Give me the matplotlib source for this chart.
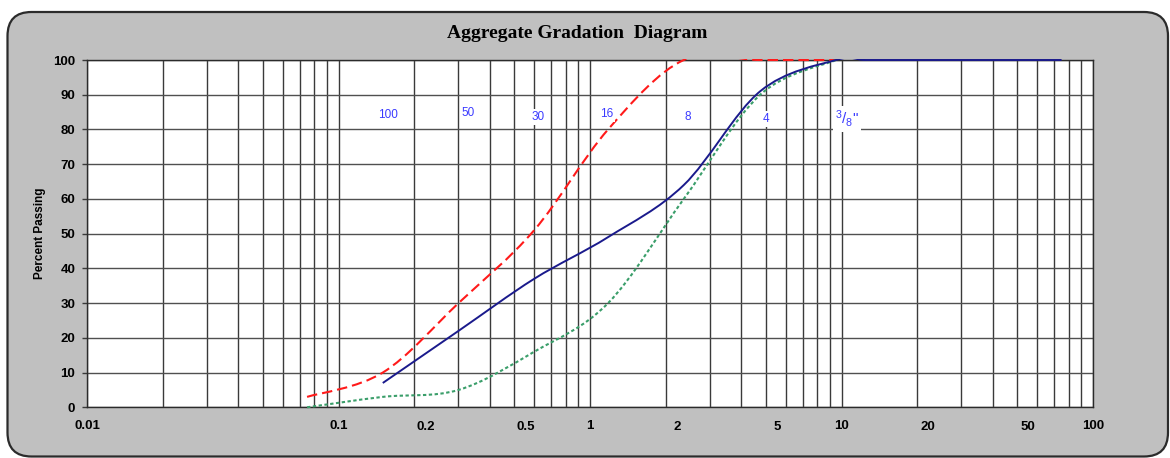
""" Aggregate gradation diagram (percent passing vs. sieve size) """

import numpy as np
import matplotlib
matplotlib.use('Agg')
import matplotlib.pyplot as plt
from matplotlib.path import Path
from matplotlib.patches import PathPatch, FancyBboxPatch
from matplotlib.transforms import Bbox, TransformedBbox, IdentityTransform

# Specification band (mm, % passing)
sieve_mm = [0.075, 0.15, 0.3, 0.6, 1.18, 2.36, 4.75, 9.5]
upper_limit = [3, 10, 30, 51, 80, 100, 100, 100]
lower_limit = [0, 3, 5, 16, 30, 60, 90, 100]

# Tested sample
sample_mm = [0.15, 0.3, 0.6, 1.18, 2.36, 4.75, 9.5, 12.5, 19, 25, 37.5, 50, 75]
sample_passing = [7, 22, 37, 49, 64, 91, 100, 100, 100, 100, 100, 100, 100]

# Sieve designations
sieve_names = ['100', '50', '30', '16', '8', '4', r'$^{3}/_{8}$"']
sieve_sizes = [0.15, 0.3, 0.6, 1.18, 2.36, 4.75, 9.5]

major_ticks = [0.01, 0.1, 1, 10, 100]
major_labels = ['0.01', '0.1', '1', '10', '100']
extra_ticks = [0.2, 0.5, 2, 5, 20, 50]
extra_labels = ['0.2', '0.5', '2', '5', '20', '50']

plt.rcParams['font.family'] = ['Liberation Sans', 'DejaVu Sans']
plt.rcParams['mathtext.fontset'] = 'custom'
plt.rcParams['mathtext.rm'] = 'Liberation Sans'
plt.rcParams['mathtext.default'] = 'regular'


def smooth_path(xs, ys):
    """ Bezier path through the points, smoothed in log-x space """
    P = np.column_stack([np.log10(xs), np.asarray(ys, float)])
    verts = [P[0]]
    codes = [Path.MOVETO]
    n = len(P)
    for i in range(n - 1):
        p0 = P[i - 1] if i > 0 else P[i]
        p1, p2 = P[i], P[i + 1]
        p3 = P[i + 2] if i + 2 < n else P[i + 1]
        verts += [p1 + (p2 - p0) / 6, p2 - (p3 - p1) / 6, p2]
        codes += [Path.CURVE4] * 3
    verts = np.array(verts)
    verts[:, 0] = 10 ** verts[:, 0]
    return Path(verts, codes)


W, H = 1170, 458
fig = plt.figure(figsize=(W / 100, H / 100), dpi=100)
fig.patch.set_facecolor('white')

# Grey rounded chart frame
frame = FancyBboxPatch(
    (7.5, 1.5), 1160.5, 444.5,
    boxstyle='round,pad=0,rounding_size=24',
    transform=IdentityTransform(),
    facecolor='#C0C0C0', edgecolor='#2b2b2b', linewidth=1.6, zorder=-10,
)
fig.add_artist(frame)

ax = fig.add_axes([87 / W, 1 - 407.3 / H, (1093 - 87) / W, (407.3 - 60) / H])
ax.set_facecolor('white')
ax.set_xscale('log')
ax.set_xlim(0.01, 100)
ax.set_ylim(0, 100)

grid_color = '#3a3a3a'
ax.set_xticks(major_ticks)
ax.set_xticklabels(major_labels)
ax.xaxis.set_minor_locator(matplotlib.ticker.LogLocator(base=10, subs=np.arange(2, 10)))
ax.xaxis.set_minor_formatter(matplotlib.ticker.NullFormatter())
ax.set_yticks(np.arange(0, 101, 10))
ax.grid(True, which='both', axis='x', color=grid_color, linewidth=1.0)
ax.grid(True, which='major', axis='y', color='#505050', linewidth=1.0)
ax.set_axisbelow(True)
ax.tick_params(axis='x', which='both', length=0, pad=9)
ax.tick_params(axis='y', direction='out', length=3.5, width=1.0, color=grid_color, pad=5)
for lab in ax.get_xticklabels() + ax.get_yticklabels():
    lab.set_fontweight('bold')
    lab.set_fontsize(9.5)
for s in ax.spines.values():
    s.set_color('#2b2b2b')
    s.set_linewidth(1.0)

# Intermediate size labels
for val, txt in zip(extra_ticks, extra_labels):
    ax.annotate(txt, xy=(val, 0), xycoords=('data', 'axes fraction'),
                xytext=(8, -14.5), textcoords='offset points',
                ha='center', va='center', fontsize=9.5, fontweight='bold')

clip = TransformedBbox(Bbox([[0, -0.005], [1, 1.002]]), ax.transAxes)

red = PathPatch(smooth_path(sieve_mm, upper_limit), fill=False, edgecolor='#FF1a1a',
                linewidth=1.5, linestyle=(0, (5, 2.4)), zorder=3)
green = PathPatch(smooth_path(sieve_mm, lower_limit), fill=False, edgecolor='#3a9e6a',
                  linewidth=1.5, linestyle=(0, (1.6, 1.2)), zorder=3)
blue = PathPatch(smooth_path(sample_mm, sample_passing), fill=False, edgecolor='#1a1a8c',
                 linewidth=1.4, zorder=4)
for p in (red, green, blue):
    ax.add_patch(p)
    p.set_clip_box(clip)

# Sieve numbers (the fraction label needs a larger size, mathtext shrinks it)
label_dx = [4, 7, 3, -1, 2.5, 4.5, 8]
label_dy = [0, 1.5, -1, 1, -1, -2.5, -2.5]
label_size = [8.5, 8.5, 8.5, 8.5, 8.5, 8.5, 11]
for size, name, dx, dy, fs in zip(sieve_sizes, sieve_names, label_dx, label_dy, label_size):
    ax.annotate(name, xy=(size, 84.5), xytext=(dx, dy - 1.2), textcoords='offset points',
                ha='center', va='center', fontsize=fs, color='#3b3bff',
                bbox=dict(boxstyle='square,pad=0.15', facecolor='white', edgecolor='none'),
                zorder=5)

fig.text(577 / W, 1 - 33 / H, 'Aggregate Gradation  Diagram', ha='center', va='center',
         family=['Liberation Serif', 'DejaVu Serif'], fontweight='bold', fontsize=14)
fig.text(40 / W, 1 - 233.6 / H, 'Percent Passing', rotation=90, ha='center', va='center',
         fontweight='bold', fontsize=8.5)

fig.savefig('out.png', dpi=100)
